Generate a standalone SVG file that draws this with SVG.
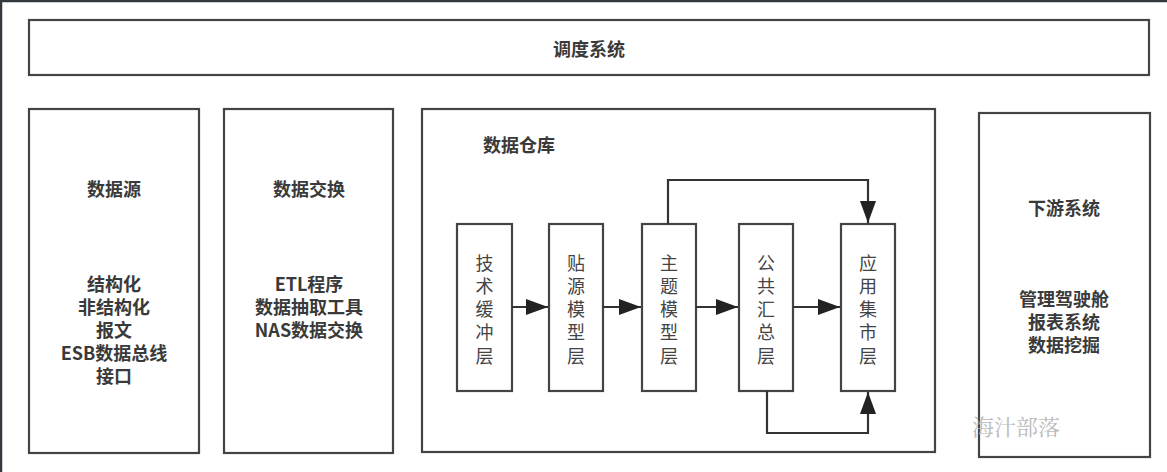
<svg xmlns="http://www.w3.org/2000/svg" width="1167" height="472" viewBox="0 0 1167 472">
<style>
.box{fill:#fff;stroke:#444;stroke-width:2.2}
.t{font-family:"Noto Sans CJK SC","Noto Sans",sans-serif;font-size:18px;font-weight:bold;fill:#3a3a3a;text-anchor:middle;dominant-baseline:central}
.v{font-family:"Noto Sans CJK SC",sans-serif;font-size:18px;fill:#444;text-anchor:middle;dominant-baseline:central}
.c{fill:none;stroke:#333;stroke-width:2.2}
.wm{font-family:"Noto Serif CJK SC","Liberation Serif","Noto Sans CJK SC",serif;font-size:22px;fill:#bbb;dominant-baseline:central}
</style>
<defs>
<marker id="ah" viewBox="0 0 22 16" refX="22" refY="8" markerWidth="22" markerHeight="16" markerUnits="userSpaceOnUse" orient="auto">
<path d="M0,0 L22,8 L0,16 Z" fill="#222"/>
</marker>
</defs>
<rect width="1167" height="472" fill="#fff"/>
<path d="M0,1 H1167 M1,0 V472" stroke="#33393e" stroke-width="2.5" fill="none"/>
<g id="scheduler">
<rect class="box" x="29" y="20" width="1120" height="55"/>
<text class="t" x="589" y="48">调度系统</text>
</g>
<g id="source">
<rect class="box" x="29" y="109" width="170" height="344"/>
<text class="t" x="114" y="188">数据源</text>
<text class="t" x="114" y="283">结构化</text>
<text class="t" x="114" y="306">非结构化</text>
<text class="t" x="114" y="329">报文</text>
<text class="t" x="114" y="352">ESB数据总线</text>
<text class="t" x="114" y="375">接口</text>
</g>
<g id="exchange">
<rect class="box" x="224" y="109" width="169" height="344"/>
<text class="t" x="309" y="188">数据交换</text>
<text class="t" x="309" y="283">ETL程序</text>
<text class="t" x="309" y="306">数据抽取工具</text>
<text class="t" x="309" y="329">NAS数据交换</text>
</g>
<g id="warehouse">
<rect class="box" x="422" y="109" width="513" height="343"/>
<text class="t" x="519" y="144">数据仓库</text>
</g>
<g id="layer1">
<rect class="box" x="457" y="224" width="55" height="167"/>
<text class="v"><tspan x="484.5" y="262">技</tspan><tspan x="484.5" y="285">术</tspan><tspan x="484.5" y="308">缓</tspan><tspan x="484.5" y="331">冲</tspan><tspan x="484.5" y="355">层</tspan></text>
</g>
<g id="layer2">
<rect class="box" x="549" y="224" width="54" height="167"/>
<text class="v"><tspan x="576" y="262">贴</tspan><tspan x="576" y="285">源</tspan><tspan x="576" y="308">模</tspan><tspan x="576" y="331">型</tspan><tspan x="576" y="355">层</tspan></text>
</g>
<g id="layer3">
<rect class="box" x="642" y="224" width="54" height="167"/>
<text class="v"><tspan x="669" y="262">主</tspan><tspan x="669" y="285">题</tspan><tspan x="669" y="308">模</tspan><tspan x="669" y="331">型</tspan><tspan x="669" y="355">层</tspan></text>
</g>
<g id="layer4">
<rect class="box" x="739" y="224" width="54" height="167"/>
<text class="v"><tspan x="766" y="262">公</tspan><tspan x="766" y="285">共</tspan><tspan x="766" y="308">汇</tspan><tspan x="766" y="331">总</tspan><tspan x="766" y="355">层</tspan></text>
</g>
<g id="layer5">
<rect class="box" x="841" y="224" width="54" height="167"/>
<text class="v"><tspan x="868" y="262">应</tspan><tspan x="868" y="285">用</tspan><tspan x="868" y="308">集</tspan><tspan x="868" y="331">市</tspan><tspan x="868" y="355">层</tspan></text>
</g>
<g id="connectors">
<path class="c" d="M512,307 H548" marker-end="url(#ah)"/>
<path class="c" d="M603,307 H641" marker-end="url(#ah)"/>
<path class="c" d="M696,307 H738" marker-end="url(#ah)"/>
<path class="c" d="M793,307 H840" marker-end="url(#ah)"/>
<path class="c" d="M668,224 V180 H868 V223" marker-end="url(#ah)"/>
<path class="c" d="M767,391 V433 H868 V392" marker-end="url(#ah)"/>
</g>
<g id="downstream">
<rect class="box" x="979" y="113" width="171" height="344"/>
<text class="t" x="1064" y="207">下游系统</text>
<text class="t" x="1064" y="298">管理驾驶舱</text>
<text class="t" x="1064" y="321">报表系统</text>
<text class="t" x="1064" y="344">数据挖掘</text>
</g>
<text class="wm" x="972" y="425">海汁部落</text>
</svg>
